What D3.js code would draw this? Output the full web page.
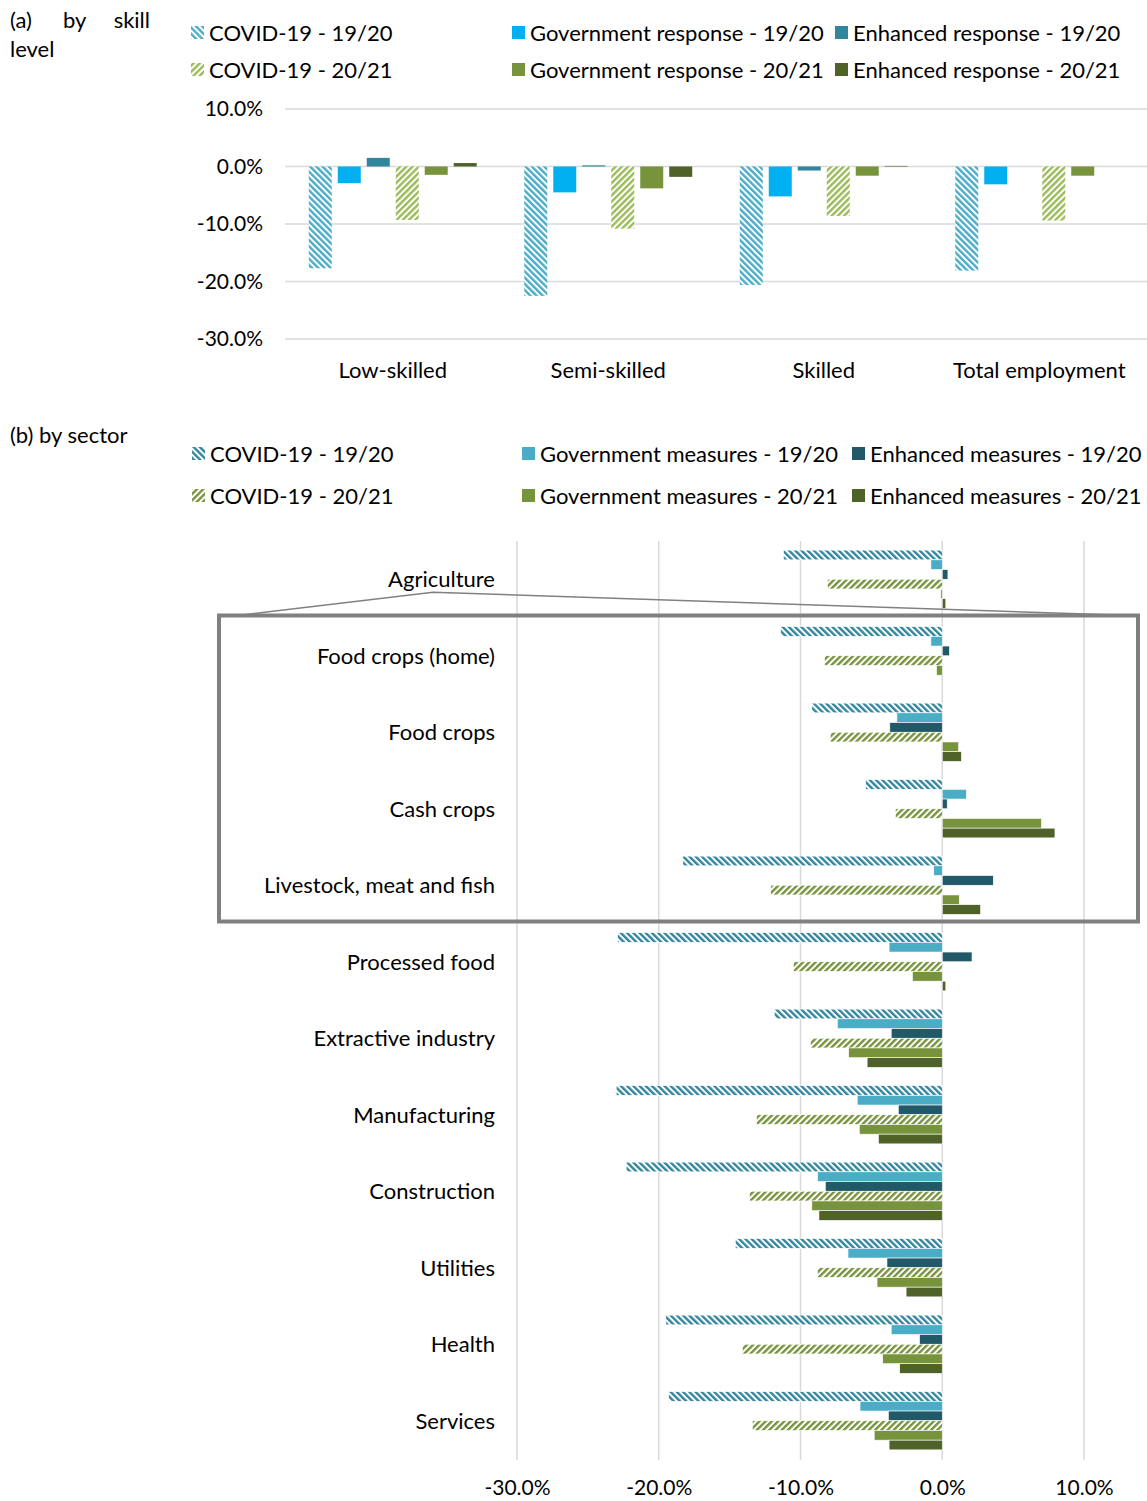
<!DOCTYPE html>
<html>
<head>
<meta charset="utf-8">
<script src="https://cdn.jsdelivr.net/npm/d3@7"></script>
<style>
  html, body { margin: 0; padding: 0; background: #fff; }
  svg { display: block; }
  text { font-family: Lato, "Open Sans", sans-serif; fill: #000; }
</style>
</head>
<body>
<svg id="chart" width="1147" height="1501"></svg>
<script>
// ---------- (a) employment impact by skill level ----------
const skillCategories = ["Low-skilled", "Semi-skilled", "Skilled", "Total employment"];
const skillSeriesNames = [
  "COVID-19 - 19/20", "Government response - 19/20", "Enhanced response - 19/20",
  "COVID-19 - 20/21", "Government response - 20/21", "Enhanced response - 20/21"
];
const skillCovid1920 = [-17.7, -22.5, -20.6, -18.1];
const skillGov1920   = [-2.9, -4.5, -5.2, -3.1];
const skillEnh1920   = [1.5, 0.2, -0.7, 0.0];
const skillCovid2021 = [-9.3, -10.8, -8.6, -9.4];
const skillGov2021   = [-1.45, -3.8, -1.6, -1.6];
const skillEnh2021   = [0.6, -1.8, 0.1, 0.0];
const skillTicks = [10, 0, -10, -20, -30];

// ---------- (b) employment impact by sector ----------
const sectorCategories = [
  "Agriculture", "Food crops (home)", "Food crops", "Cash crops", "Livestock, meat and fish",
  "Processed food", "Extractive industry", "Manufacturing", "Construction",
  "Utilities", "Health", "Services"
];
const sectorSeriesNames = [
  "COVID-19 - 19/20", "Government measures - 19/20", "Enhanced measures - 19/20",
  "COVID-19 - 20/21", "Government measures - 20/21", "Enhanced measures - 20/21"
];
const sectorCovid1920 = [-11.2, -11.4, -9.2, -5.4, -18.3, -22.9, -11.85, -23.0, -22.3, -14.6, -19.5, -19.3];
const sectorGov1920   = [-0.8, -0.8, -3.2, 1.7, -0.6, -3.75, -7.4, -6.0, -8.8, -6.65, -3.6, -5.8];
const sectorEnh1920   = [0.4, 0.5, -3.7, 0.35, 3.6, 2.1, -3.6, -3.1, -8.25, -3.9, -1.6, -3.8];
const sectorCovid2021 = [-8.1, -8.3, -7.9, -3.3, -12.1, -10.5, -9.3, -13.1, -13.6, -8.8, -14.1, -13.4];
const sectorGov2021   = [-0.1, -0.4, 1.15, 7.0, 1.2, -2.1, -6.6, -5.85, -9.2, -4.6, -4.2, -4.8];
const sectorEnh2021   = [0.25, 0.0, 1.35, 7.95, 2.7, 0.25, -5.3, -4.5, -8.7, -2.55, -3.0, -3.75];
const sectorTicks = [-30, -20, -10, 0, 10];

// Series styling (fill keys refer to pattern ids or plain colours)
const skillFills  = ["url(#hatchSkyBack)", "#00b0f0", "#31859c", "url(#hatchLimeFwd)", "#77933c", "#4f6228"];
const sectorFills = ["url(#hatchTealBack)", "#4bacc6", "#215968", "url(#hatchOliveFwd)", "#77933c", "#4f6228"];

const skillRows = skillCategories.map((c, i) => ({
  cat: c,
  values: [skillCovid1920[i], skillGov1920[i], skillEnh1920[i], skillCovid2021[i], skillGov2021[i], skillEnh2021[i]]
}));
const sectorRows = sectorCategories.map((c, i) => ({
  cat: c,
  values: [sectorCovid1920[i], sectorGov1920[i], sectorEnh1920[i], sectorCovid2021[i], sectorGov2021[i], sectorEnh2021[i]]
}));

const svg = d3.select("#chart");
const fmt = d => (d3.format(".1f")(d) + "%").replace("\u2212", "-");
const gridColor = "#d9d9d9";
const labelSize = "22px";
const tickSize = "21px";

// ---------- hatch patterns ----------
const defs = svg.append("defs");
function hatch(id, color, angle) {
  const p = defs.append("pattern")
    .attr("id", id)
    .attr("patternUnits", "userSpaceOnUse")
    .attr("width", 4.4).attr("height", 4.4)
    .attr("patternTransform", `rotate(${angle})`);
  p.append("rect").attr("width", 4.4).attr("height", 4.4).attr("fill", "#fff");
  p.append("rect").attr("width", 2.4).attr("height", 4.4).attr("fill", color);
}
hatch("hatchSkyBack", "#4bacc6", -45);
hatch("hatchLimeFwd", "#9bbb59", 45);
hatch("hatchTealBack", "#31859c", -45);
hatch("hatchOliveFwd", "#77933c", 45);

// ---------- legend helper ----------
function legend(g, names, fills, cols, rowYs) {
  names.forEach((n, i) => {
    const col = i % 3, row = Math.floor(i / 3);
    const x = cols[col], y = rowYs[row];
    g.append("rect").attr("x", x).attr("y", y - 7).attr("width", 13).attr("height", 13).attr("fill", fills[i]);
    g.append("text").attr("x", x + 18).attr("y", y).attr("dy", "0.36em")
      .style("font-size", labelSize).text(n);
  });
}

// ================= Panel (a) =================
const gA = svg.append("g");
gA.append("text").attr("x", 10).attr("y", 20).attr("dy", "0.36em").style("font-size", labelSize).text("(a)");
gA.append("text").attr("x", 63).attr("y", 20).attr("dy", "0.36em").style("font-size", labelSize).text("by");
gA.append("text").attr("x", 150).attr("y", 20).attr("dy", "0.36em").attr("text-anchor", "end").style("font-size", labelSize).text("skill");
gA.append("text").attr("x", 10).attr("y", 49).attr("dy", "0.36em").style("font-size", labelSize).text("level");

legend(gA, skillSeriesNames, skillFills, [191, 512, 835], [33, 70]);

const xA = d3.scaleBand().domain(skillCategories).range([285, 1147]).paddingInner(0).paddingOuter(0);
const xAin = d3.scaleBand().domain(d3.range(6)).range([0, xA.bandwidth()]).paddingInner(0.207).paddingOuter(0.82);
const yA = d3.scaleLinear().domain([-30, 10]).range([339, 109]);

// gridlines
gA.append("g").selectAll("line").data(skillTicks).join("line")
  .attr("x1", 285).attr("x2", 1147)
  .attr("y1", d => yA(d)).attr("y2", d => yA(d))
  .attr("stroke", gridColor).attr("stroke-width", 1.5);

// y axis labels
const yAxisA = d3.axisLeft(yA).tickValues(skillTicks).tickFormat(fmt).tickSize(0).tickPadding(0);
gA.append("g").attr("transform", "translate(263,0)").call(yAxisA)
  .call(g => g.select(".domain").remove())
  .call(g => g.selectAll("text").style("font-size", tickSize).style("font-family", "Lato, sans-serif").attr("fill", "#000"));

// bars
gA.append("g").selectAll("g").data(skillRows).join("g")
  .attr("transform", d => `translate(${xA(d.cat)},0)`)
  .selectAll("rect").data(d => d.values.map((v, i) => ({ v, i }))).join("rect")
  .attr("x", d => xAin(d.i))
  .attr("width", xAin.bandwidth())
  .attr("y", d => yA(Math.max(0, d.v)))
  .attr("height", d => Math.abs(yA(d.v) - yA(0)))
  .attr("fill", d => skillFills[d.i]);

// category labels
const xAxisA = d3.axisBottom(xA).tickSize(0).tickPadding(0);
gA.append("g").attr("transform", "translate(0,362)").call(xAxisA)
  .call(g => g.select(".domain").remove())
  .call(g => g.selectAll("text").style("font-size", labelSize).style("font-family", "Lato, sans-serif").attr("fill", "#000"));

// ================= Panel (b) =================
const gB = svg.append("g");
gB.append("text").attr("x", 10).attr("y", 435).attr("dy", "0.36em").style("font-size", labelSize).text("(b) by sector");

legend(gB, sectorSeriesNames, sectorFills, [192, 522, 852], [454, 496]);

const xB = d3.scaleLinear().domain([-30, 10]).range([517, 1084]);
const yB = d3.scaleBand().domain(sectorCategories).range([541, 1459]).paddingInner(0).paddingOuter(0);
const yBin = d3.scaleBand().domain(d3.range(6)).range([0, yB.bandwidth()]).paddingInner(0).paddingOuter(0.94);

// vertical gridlines
gB.append("g").selectAll("line").data(sectorTicks).join("line")
  .attr("x1", d => xB(d)).attr("x2", d => xB(d))
  .attr("y1", 541).attr("y2", 1460)
  .attr("stroke", gridColor).attr("stroke-width", 1.5);

// bars
gB.append("g").selectAll("g").data(sectorRows).join("g")
  .attr("transform", d => `translate(0,${yB(d.cat)})`)
  .selectAll("rect").data(d => d.values.map((v, i) => ({ v, i }))).join("rect")
  .attr("y", d => yBin(d.i))
  .attr("height", yBin.bandwidth())
  .attr("x", d => xB(Math.min(0, d.v)))
  .attr("width", d => Math.abs(xB(d.v) - xB(0)))
  .attr("fill", d => sectorFills[d.i])
  .attr("stroke", "#fff").attr("stroke-width", 0.6);

// x axis labels
const xAxisB = d3.axisBottom(xB).tickValues(sectorTicks).tickFormat(fmt).tickSize(0).tickPadding(0);
gB.append("g").attr("transform", "translate(0,1480)").call(xAxisB)
  .call(g => g.select(".domain").remove())
  .call(g => g.selectAll("text").style("font-size", tickSize).style("font-family", "Lato, sans-serif").attr("fill", "#000"));

// category labels
gB.append("g").selectAll("text").data(sectorCategories).join("text")
  .attr("x", 495)
  .attr("y", d => yB(d) + yB.bandwidth() / 2)
  .attr("dy", "0.36em")
  .attr("text-anchor", "end")
  .style("font-size", labelSize)
  .text(d => d);

// Agriculture sub-sector bracket: frame around the four components and callout lines
const subTop = yB("Food crops (home)") - 2;
const subBot = yB("Livestock, meat and fish") + yB.bandwidth() - 2;
gB.append("rect")
  .attr("x", 219).attr("y", subTop)
  .attr("width", 919).attr("height", subBot - subTop)
  .attr("fill", "none").attr("stroke", "#808080").attr("stroke-width", 4);
const apexY = yB("Agriculture") + yB.bandwidth() / 2 + 13;
gB.append("polyline")
  .attr("points", `238,${subTop} 433,${apexY} 1132,${subTop}`)
  .attr("fill", "none").attr("stroke", "#808080").attr("stroke-width", 1.5);
</script>
</body>
</html>
